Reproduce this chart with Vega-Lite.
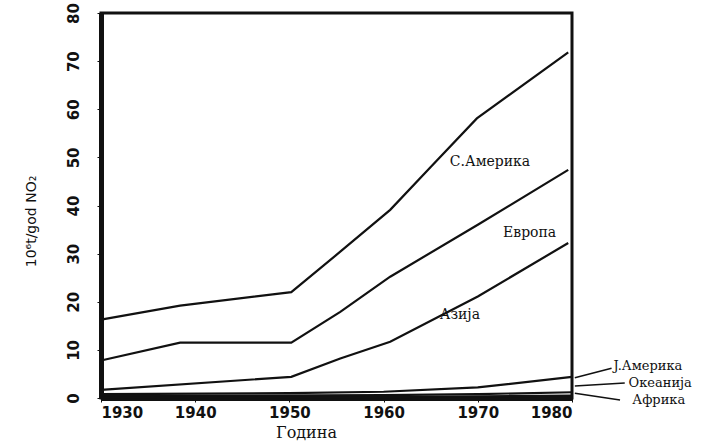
{
  "$schema": "https://vega.github.io/schema/vega-lite/v6.json",
  "autosize": {"type": "none"},
  "padding": {"left": 101, "top": 13, "right": 153, "bottom": 48},
  "width": 471,
  "height": 385,
  "background": "white",
  "config": {
    "view": {"stroke": "#111", "strokeWidth": 3},
    "axis": {"grid": false, "domainColor": "#111", "tickColor": "#111", "labelColor": "#111", "titleColor": "#111"}
  },
  "datasets": {
    "lines": [
      {"region": "С.Америка", "year": 1930, "value": 16.3},
      {"region": "С.Америка", "year": 1938.4, "value": 19.2},
      {"region": "С.Америка", "year": 1950.2, "value": 22.0},
      {"region": "С.Америка", "year": 1955.4, "value": 30.4},
      {"region": "С.Америка", "year": 1960.7, "value": 39.1},
      {"region": "С.Америка", "year": 1965, "value": 48.0},
      {"region": "С.Америка", "year": 1969.9, "value": 58.1},
      {"region": "С.Америка", "year": 1979.6, "value": 71.8},
      {"region": "Европа", "year": 1930, "value": 7.8},
      {"region": "Европа", "year": 1938.4, "value": 11.5},
      {"region": "Европа", "year": 1950.2, "value": 11.5},
      {"region": "Европа", "year": 1955.4, "value": 17.9},
      {"region": "Европа", "year": 1960.7, "value": 25.2},
      {"region": "Европа", "year": 1970, "value": 36.0},
      {"region": "Европа", "year": 1979.6, "value": 47.4},
      {"region": "Азија", "year": 1930, "value": 1.7},
      {"region": "Азија", "year": 1950.2, "value": 4.4},
      {"region": "Азија", "year": 1955.4, "value": 8.2},
      {"region": "Азија", "year": 1960.7, "value": 11.7},
      {"region": "Азија", "year": 1970, "value": 21.1},
      {"region": "Азија", "year": 1979.6, "value": 32.2},
      {"region": "J.Америка", "year": 1930, "value": 0.8},
      {"region": "J.Америка", "year": 1950, "value": 1.0},
      {"region": "J.Америка", "year": 1960, "value": 1.3},
      {"region": "J.Америка", "year": 1970, "value": 2.2},
      {"region": "J.Америка", "year": 1980, "value": 4.4},
      {"region": "Океанија", "year": 1930, "value": 0.4},
      {"region": "Океанија", "year": 1960, "value": 0.6},
      {"region": "Океанија", "year": 1970, "value": 0.8},
      {"region": "Океанија", "year": 1980, "value": 1.2},
      {"region": "Африка", "year": 1930, "value": 0.1},
      {"region": "Африка", "year": 1960, "value": 0.2},
      {"region": "Африка", "year": 1980, "value": 0.5}
    ],
    "innerLabels": [
      {"label": "С.Америка", "year": 1971.3, "value": 49.1},
      {"label": "Европа", "year": 1975.5, "value": 34.3},
      {"label": "Азија", "year": 1968.1, "value": 17.3}
    ],
    "outerLabels": [
      {"label": "J.Америка", "year": 1984.4, "value": 6.6},
      {"label": "Океанија", "year": 1986.0, "value": 3.1},
      {"label": "Африка", "year": 1986.4, "value": -0.5}
    ],
    "leaders": [
      {"region": "J.Америка", "year": 1980.3, "value": 4.2, "year2": 1984.2, "value2": 6.2},
      {"region": "Океанија", "year": 1980.3, "value": 2.5, "year2": 1985.6, "value2": 3.1},
      {"region": "Африка", "year": 1980.3, "value": 1.0, "year2": 1985.1, "value2": -0.4}
    ]
  },
  "layer": [
    {
      "data": {"name": "lines"},
      "mark": {"type": "line", "color": "#111", "strokeWidth": 2.2, "clip": false},
      "encoding": {
        "x": {
          "field": "year", "type": "quantitative",
          "scale": {"domain": [1930, 1980], "nice": false, "zero": false},
          "axis": {
            "values": [1930, 1940, 1950, 1960, 1970, 1980], "format": "d",
            "title": "Година", "titleFont": "DejaVu Serif", "titleFontSize": 16, "titleFontWeight": "normal", "titlePadding": 4, "titleX": 205, "titleAlign": "center",
            "labelFont": "DejaVu Sans", "labelFontWeight": "bold", "labelFontSize": 15, "labelPadding": 3,
            "tickSize": 4, "domainWidth": 5
          }
        },
        "y": {
          "field": "value", "type": "quantitative",
          "scale": {"domain": [0, 80], "nice": false},
          "axis": {
            "values": [0, 10, 20, 30, 40, 50, 60, 70, 80],
            "title": "10⁶t/god NO₂", "titleFont": "DejaVu Sans", "titleFontSize": 14, "titleFontWeight": "normal", "titlePadding": 28, "titleY": 208,
            "labelFont": "DejaVu Sans", "labelFontWeight": "bold", "labelFontSize": 15, "labelAngle": -90, "labelAlign": "center", "labelBaseline": "bottom", "labelPadding": 16,
            "tickSize": 4, "domainWidth": 5
          }
        },
        "detail": {"field": "region"}
      }
    },
    {
      "data": {"name": "leaders"},
      "mark": {"type": "rule", "color": "#111", "strokeWidth": 1.5, "clip": false},
      "encoding": {
        "x": {"field": "year", "type": "quantitative"},
        "y": {"field": "value", "type": "quantitative"},
        "x2": {"field": "year2"},
        "y2": {"field": "value2"}
      }
    },
    {
      "data": {"name": "innerLabels"},
      "mark": {"type": "text", "font": "DejaVu Serif", "fontSize": 14, "color": "#111", "align": "center", "baseline": "middle", "clip": false},
      "encoding": {
        "x": {"field": "year", "type": "quantitative"},
        "y": {"field": "value", "type": "quantitative"},
        "text": {"field": "label"}
      }
    },
    {
      "data": {"name": "outerLabels"},
      "mark": {"type": "text", "font": "DejaVu Serif", "fontSize": 13, "color": "#111", "align": "left", "baseline": "middle", "clip": false},
      "encoding": {
        "x": {"field": "year", "type": "quantitative"},
        "y": {"field": "value", "type": "quantitative"},
        "text": {"field": "label"}
      }
    }
  ]
}
